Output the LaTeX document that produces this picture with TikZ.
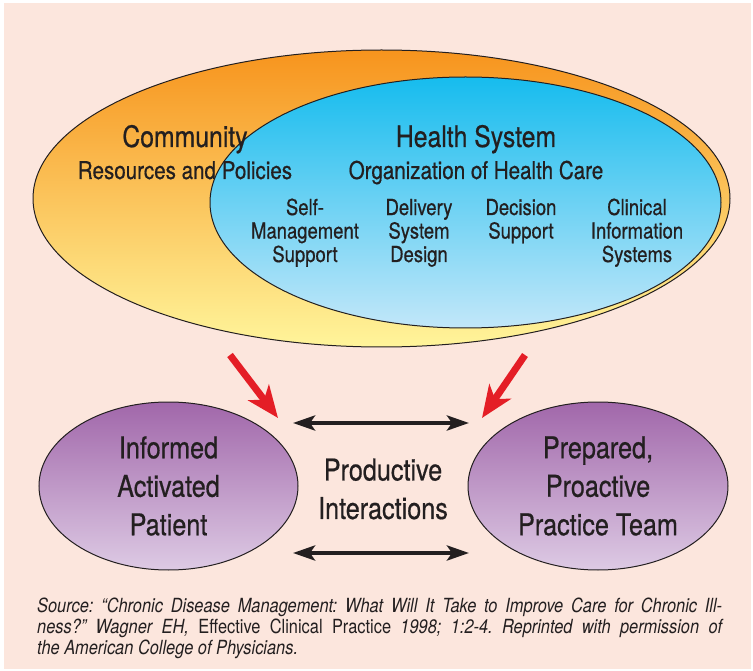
\documentclass[tikz,border=0pt]{standalone}
\usepackage{fontspec}
\setmainfont[FakeStretch=0.84]{TeX Gyre Heros}
\newfontfamily\heavy[FakeStretch=0.84,FakeBold=0.6]{TeX Gyre Heros}
\usetikzlibrary{positioning,arrows.meta,shapes.geometric}
\definecolor{peach}{HTML}{FCE6DD}
\definecolor{ink}{HTML}{231F20}
\definecolor{orangetop}{HTML}{F7941D}
\definecolor{yellowbot}{HTML}{FFF59B}
\definecolor{bluetop}{HTML}{16BCEE}
\definecolor{bluebot}{HTML}{C2E7F9}
\definecolor{plumtop}{HTML}{A167AA}
\definecolor{plumbot}{HTML}{DDCAE4}
\definecolor{alert}{HTML}{E41E26}
\frenchspacing

\begin{document}
\begin{tikzpicture}[x=1pt, y=-1pt,
  oval/.style={ellipse, draw=ink, line width=1pt, inner sep=0pt},
  plum/.style={oval, minimum width=259pt, minimum height=168pt,
               top color=plumtop, bottom color=plumbot,
               font=\heavy\fontsize{30}{38.5}\selectfont, text=ink, align=center},
  big/.style={font=\heavy\fontsize{29.5}{32}\selectfont, text=ink, anchor=base},
  mid/.style={font=\heavy\fontsize{24.5}{27}\selectfont, text=ink, anchor=base},
  small/.style={font=\heavy\fontsize{22}{23.5}\selectfont, text=ink, align=center, anchor=base},
  dbl/.style={line width=4pt, draw=ink,
              {Stealth[length=22pt,width=15pt,inset=5pt]}-{Stealth[length=22pt,width=15pt,inset=5pt]}},
  push/.style={line width=7pt, draw=alert, -{Stealth[length=32pt,width=26pt,inset=9pt]}}]

\useasboundingbox (0,0) rectangle (753,671);
\fill[white] (0,0) rectangle (753,671);
\fill[peach] (4,3) rectangle (751,669);

% the two nested ovals
\node[oval, minimum width=697pt, minimum height=297pt,
      top color=orangetop, bottom color=yellowbot] (comm) at (381.5,198.5) {};
\node[oval, minimum width=511pt, minimum height=251pt,
      top color=bluetop, bottom color=bluebot] (hsys) at (465.5,202.5) {};

\node[big] (commtitle) at (185,147) {Community};
\node[mid] (commsub) at (185,179) {Resources and Policies};
\node[big] (hsystitle) at (476,147) {Health System};
\node[mid] (hsyssub) at (476,179) {Organization of Health Care};

% base anchor sits on the last line
\foreach \x/\y/\t [count=\i] in {305/262/{Self-\\Management\\Support}, 419/262/{Delivery\\System\\Design},
                                 521/238.5/{Decision\\Support}, 637/262/{Clinical\\Information\\Systems}}
  \node[small] (col\i) at (\x,\y) {\t};

% patient, team and what passes between them
\node[plum] (patient) at (168.5,486) {Informed\\Activated\\Patient};
\node[plum, minimum width=260pt] (team) at (598,486) {Prepared,\\Proactive\\Practice Team};
\node[font=\heavy\fontsize{30}{38.5}\selectfont, text=ink, align=center] (interact) at (383,489)
  {Productive\\Interactions};

\foreach \n/\y in {upper/423, lower/553} {
  \coordinate (\n-w) at (293,\y);
  \coordinate (\n-e) at (469,\y);
  \draw[dbl] (\n-w) -- (\n-e);
}

\coordinate (fromcomm) at (230,355);
\coordinate (topatient) at (278,418);
\coordinate (fromhsys) at (525,355);
\coordinate (toteam) at (482,418);
\draw[push] (fromcomm) -- (topatient);
\draw[push] (fromhsys) -- (toteam);

\node[text width=685pt, align=justify, inner sep=0pt, anchor=north west, text=ink,
      font=\fontsize{19.5}{21}\selectfont] (source) at (37,598)
  {\itshape Source: “Chronic Disease Management: What Will It Take to Improve Care for Chronic Ill-\linebreak
   ness?” Wagner EH, {\upshape Effective Clinical Practice} 1998; 1:2-4. Reprinted with permission of\linebreak
   the American College of Physicians.};
\end{tikzpicture}
\end{document}
